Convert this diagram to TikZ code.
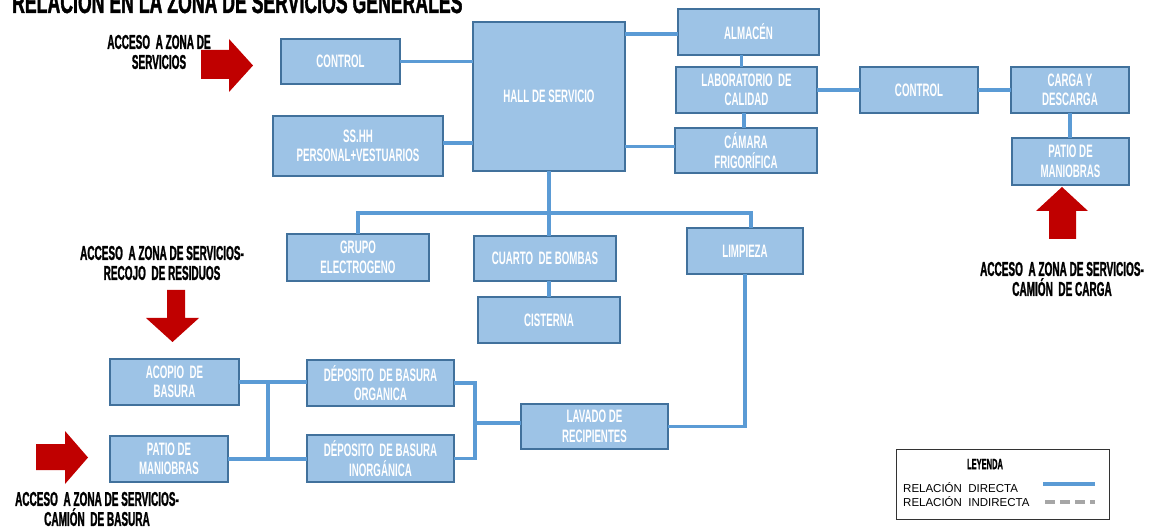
\documentclass[tikz,border=0pt]{standalone}
\usepackage{fontspec}
\setmainfont{Liberation Sans}
\newfontfamily\condfont[FakeStretch=0.54]{Liberation Sans}
\newfontfamily\heavyfont[FakeStretch=0.5,FakeBold=1.2]{Liberation Sans}
\newfontfamily\titlefont[FakeStretch=0.57,FakeBold=1.2]{Liberation Sans}
\usetikzlibrary{calc}
\definecolor{boxfill}{HTML}{9DC3E6}
\definecolor{boxedge}{HTML}{41719C}
\definecolor{linkblue}{HTML}{5B9BD5}
\definecolor{accessred}{HTML}{C00000}
\definecolor{legendgray}{HTML}{A6A6A6}
\begin{document}
\begin{tikzpicture}[x=1pt,y=-1pt,
  room/.style 2 args={draw=boxedge, fill=boxfill, line width=2.6pt, inner sep=0pt,
    outer sep=0pt, align=center, text=white, minimum width=#1, minimum height=#2,
    font=\condfont\bfseries\fontsize{18}{19.5}\selectfont},
  link/.style={draw=linkblue, line width=3.4pt},
  accessarrow/.style={fill=accessred, draw=none},
  accesslabel/.style={align=center, inner sep=0pt, text=black,
    font=\heavyfont\bfseries\fontsize{20}{20}\selectfont}]
\clip (0,0) rectangle (1157,529);
\fill[white] (0,0) rectangle (1157,529);

% title
\node[anchor=base west, inner sep=0pt, text=black,
  font=\titlefont\bfseries\fontsize{31}{32}\selectfont] (title) at (12,13)
  {RELACION EN LA ZONA DE SERVICIOS GENERALES};

% rooms
\node[room={119}{45}] (ctrlL) at (340.5,61.5) {CONTROL};
\node[room={152}{149}] (hall) at (549,96.5) {HALL DE SERVICIO};
\node[room={141}{46}] (alm) at (748.5,32) {ALMACÉN};
\node[room={141}{46}] (lab) at (746.5,90) {LABORATORIO\ \ DE\\CALIDAD};
\node[room={142}{45}] (cam) at (746,150.5) {CÁMARA\\FRIGORÍFICA};
\node[room={118}{46}] (ctrlR) at (919,90) {CONTROL};
\node[room={118}{46}] (carga) at (1070,90) {CARGA Y\\DESCARGA};
\node[room={117}{47}] (patioR) at (1070.5,161.5) {PATIO DE\\MANIOBRAS};
\node[room={170}{60}] (sshh) at (358,146) {SS.HH\\PERSONAL+VESTUARIOS};
\node[room={142}{47}] (grupo) at (358,257.5) {GRUPO\\ELECTROGENO};
\node[room={142}{45}] (bombas) at (545,258.5) {CUARTO\ \ DE BOMBAS};
\node[room={142}{46}] (cist) at (549,320) {CISTERNA};
\node[room={116}{46}] (limp) at (745,251) {LIMPIEZA};
\node[room={147}{45}] (lavado) at (594.5,426.5) {LAVADO DE\\RECIPIENTES};
\node[room={129}{46}] (acopio) at (174.5,382) {ACOPIO\ \ DE\\BASURA};
\node[room={118}{46}] (patioL) at (169,459) {PATIO DE\\MANIOBRAS};
\node[room={147}{46}] (depOrg) at (380.5,383) {DÉPOSITO\ \ DE BASURA\\ORGANICA};
\node[room={147}{47}] (depInorg) at (380.5,458.5) {DÉPOSITO\ \ DE BASURA\\INORGÁNICA};

% direct relations
\draw[link] (ctrlL.east) -- (ctrlL.east -| hall.west);
\draw[link] ($(sshh.east)+(0,-3)$) -- ($(sshh.east -| hall.west)+(0,-3)$);
\draw[link] ($(alm.west)+(0,2)$) -- ($(alm.west -| hall.east)+(0,2)$);
\draw[link] ($(cam.west)+(0,-4)$) -- ($(cam.west -| hall.east)+(0,-4)$);
\draw[link] ([xshift=-7pt]alm.south) -- ([xshift=-7pt]alm.south |- lab.north);
\draw[link] ([xshift=-2.5pt]lab.south) -- ([xshift=-2.5pt]lab.south |- cam.north);
\draw[link] (lab.east) -- (ctrlR.west);
\draw[link] (ctrlR.east) -- (carga.west);
\draw[link] (carga.south) -- (carga.south |- patioR.north);

\coordinate (busL) at (358,213);
\coordinate (busR) at (751,213);
\draw[link] (hall.south) -- (hall.south |- bombas.north);
\draw[link] (grupo.north) -- (busL) -- (busR) -- (busR |- limp.north);
\draw[link] (cist.north) -- (cist.north |- bombas.south);
\draw[link] (limp.south) |- (lavado.east);

\coordinate (rbus) at (475,423);
\draw[link] (rbus -| lavado.west) -- (rbus);
\draw[link] (depOrg.east) -| (rbus) |- (depInorg.east);

\coordinate (lbus) at (268,382);
\draw[link] (acopio.east) -- (acopio.east -| depOrg.west);
\draw[link] (lbus) -- (lbus |- patioL.east);
\draw[link] (patioL.east) -- (patioL.east -| depInorg.west);

% access arrows
\fill[accessarrow] (201,50) -- (229,50) -- (229,39) -- (253,65.5) -- (229,92)
  -- (229,79) -- (201,79) -- cycle;
\fill[accessarrow] (36,444) -- (65,444) -- (65,431) -- (88,457.5) -- (65,484)
  -- (65,470) -- (36,470) -- cycle;
\fill[accessarrow] (167,290) -- (185,290) -- (185,318) -- (199,318) -- (172.5,342)
  -- (146,318) -- (167,318) -- cycle;
\fill[accessarrow] (1049,239) -- (1049,211) -- (1036,211) -- (1062,187)
  -- (1088,211) -- (1076,211) -- (1076,239) -- cycle;

% access labels
\node[accesslabel] (accTop) at (159,52) {ACCESO\ \ A ZONA DE\\SERVICIOS};
\node[accesslabel] (accRes) at (162,263) {ACCESO\ \ A ZONA DE SERVICIOS-\\RECOJO\ \ DE RESIDUOS};
\node[accesslabel] (accBas) at (97,509) {ACCESO\ \ A ZONA DE SERVICIOS-\\CAMIÓN\ \ DE BASURA};
\node[accesslabel] (accCar) at (1062,279) {ACCESO\ \ A ZONA DE SERVICIOS-\\CAMIÓN\ \ DE CARGA};

% legend
\node[draw=black!80, line width=1pt, minimum width=213, minimum height=70,
  inner sep=0pt] (legend) at (1002.5,484) {};
\node[inner sep=0pt, font=\heavyfont\bfseries\fontsize{15}{15}\selectfont] (legtitle)
  at (985,464) {LEYENDA};
\node[anchor=west, inner sep=0pt, font=\fontsize{11.5}{13}\selectfont] (legdir)
  at (903,488) {RELACIÓN\ \ DIRECTA};
\node[anchor=west, inner sep=0pt, font=\fontsize{11.5}{13}\selectfont] (legind)
  at (903,502) {RELACIÓN\ \ INDIRECTA};
\coordinate (ld1) at (1043,484);
\coordinate (ld2) at (1095,484);
\coordinate (li1) at (1045,502);
\coordinate (li2) at (1095,502);
\draw[link] (ld1) -- (ld2);
\draw[draw=legendgray, line width=3.4pt, dash pattern=on 10pt off 5pt] (li1) -- (li2);
\end{tikzpicture}
\end{document}
